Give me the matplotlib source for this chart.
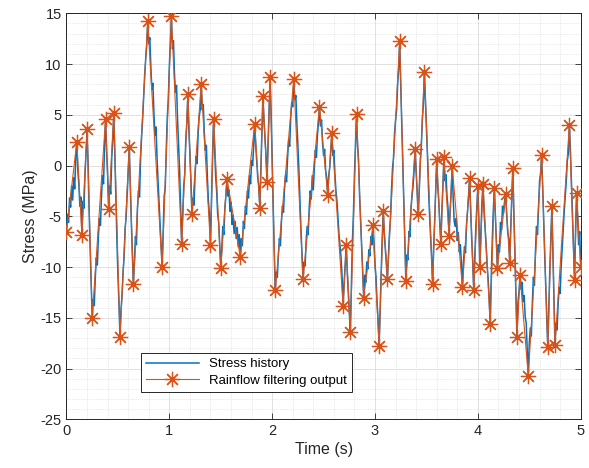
import matplotlib
matplotlib.use("Agg")
import matplotlib.pyplot as plt
import numpy as np
from matplotlib.ticker import MultipleLocator

# rainflow filtering output (turning points)
rf_time = [0.00, 0.10, 0.15, 0.20, 0.25, 0.38, 0.41, 0.46, 0.52, 0.61,
           0.65, 0.79, 0.93, 1.02, 1.12, 1.18, 1.22, 1.31, 1.40, 1.43,
           1.50, 1.56, 1.69, 1.83, 1.88, 1.91, 1.95, 1.98, 2.03, 2.21,
           2.30, 2.46, 2.54, 2.58, 2.69, 2.72, 2.76, 2.82, 2.89, 2.98,
           3.04, 3.08, 3.12, 3.24, 3.30, 3.39, 3.42, 3.48, 3.56, 3.60,
           3.64, 3.67, 3.72, 3.75, 3.85, 3.92, 3.96, 4.00, 4.02, 4.05,
           4.12, 4.16, 4.19, 4.27, 4.31, 4.34, 4.38, 4.41, 4.49, 4.62,
           4.68, 4.72, 4.75, 4.89, 4.94, 4.96, 5.00]
rf_stress = [-6.5, 2.3, -6.8, 3.6, -15.0, 4.6, -4.3, 5.2, -16.9, 1.8,
             -11.7, 14.2, -10.0, 14.7, -7.7, 7.0, -4.8, 8.0, -7.8, 4.6,
             -10.1, -1.3, -9.0, 4.1, -4.2, 6.9, -1.6, 8.7, -12.3, 8.5,
             -11.2, 5.8, -2.9, 3.2, -13.8, -7.8, -16.4, 5.1, -13.0, -5.9,
             -17.8, -4.5, -11.2, 12.3, -11.4, 1.6, -4.8, 9.2, -11.7, 0.6,
             -7.7, 0.8, -6.9, 0.0, -12.0, -1.2, -12.3, -2.0, -10.0, -1.8,
             -15.6, -2.2, -10.1, -2.8, -9.6, -0.2, -16.9, -10.8, -20.7, 1.0,
             -17.9, -4.0, -17.7, 4.0, -11.3, -2.7, -10.0]

# stress history, sampled every 0.01 s
dt = 0.01
stress = [-6.5,
    -4.8, -5.6, -3.2, -4.1, -2.0, -3.4, -1.2, -2.3, 0.9, 2.3,
    -0.5, -1.8, -4.0, -3.1, -6.8,
    -3.5, -4.2, -0.8, 1.2, 3.6,
    0.2, -4.5, -8.2, -11.6, -15.0,
    -13.2, -13.8, -11.0, -9.1, -9.8, -7.0, -5.2, -5.9, -3.1, -1.0, -1.8, 1.9, 4.6,
    1.5, -0.8, -4.3,
    -2.0, -2.8, 0.8, 2.5, 5.2,
    1.0, -3.5, -7.2, -10.8, -13.5, -16.9,
    -14.2, -12.8, -10.5, -9.0, -6.2, -5.1, -2.9, -0.6, 1.8,
    -2.0, -5.5, -8.6, -11.7,
    -9.6, -7.0, -7.8, -4.2, -2.5, -3.1, 0.5, 2.8, 4.5, 6.8, 8.9, 10.5, 11.8, 14.2,
    12.0, 12.6, 9.8, 7.5, 8.1, 5.2, 3.0, 3.8, 0.9, -1.5, -3.6, -5.9, -7.8, -10.0,
    -6.5, -3.0, -2.2, 1.5, 4.8, 6.5, 9.8, 12.1, 14.7,
    11.5, 12.3, 9.0, 7.2, 7.9, 4.5, 2.1, -0.5, -4.2, -7.7,
    -4.8, -2.0, -0.9, 2.6, 4.1, 7.0,
    3.5, 1.2, -1.5, -4.8,
    -3.2, -3.9, -1.0, 0.9, 0.2, 3.1, 4.8, 5.5, 8.0,
    5.5, 6.0, 3.2, 1.5, 2.0, -1.2, -3.5, -4.8, -7.8,
    -3.5, 0.8, 4.6,
    1.8, -1.0, -2.5, -4.8, -5.6, -7.9, -10.1,
    -8.2, -6.0, -6.8, -4.2, -3.0, -1.3,
    -3.0, -2.4, -4.5, -3.6, -5.8, -4.9, -6.7, -5.5, -7.2, -6.1, -8.0, -6.8, -9.0,
    -7.2, -7.9, -5.5, -6.2, -4.0, -4.8, -2.5, -3.2, -1.0, -1.8, 0.5, 0.0, 1.9, 4.1,
    2.0, 0.4, -1.2, -2.0, -4.2,
    -0.5, 3.2, 6.9,
    4.5, 2.8, 1.0, -1.6,
    2.2, 5.5, 8.7,
    5.0, 0.5, -4.2, -8.5, -12.3,
    -10.5, -11.0, -8.8, -7.2, -7.9, -5.5, -4.0, -4.6, -2.3, -1.0, -1.6, 0.8, 2.5, 1.9, 4.6, 6.2, 5.8, 8.5,
    6.5, 6.9, 4.2, 2.0, -0.5, -3.5, -6.3, -8.8, -11.2,
    -9.5, -9.9, -7.5, -6.0, -6.8, -4.2, -2.5, -3.3, -1.0, -2.4, -0.2, 1.5, 0.8, 3.0, 4.2, 5.8,
    3.9, 4.5, 2.2, 1.0, 1.6, -0.5, -1.2, -2.9,
    -1.0, -0.2, 1.5, 3.2,
    1.0, 1.5, -0.8, -2.5, -3.5, -5.2, -6.8, -8.0, -9.1, -11.0, -13.8,
    -11.5, -9.8, -7.8,
    -10.5, -12.6, -14.5, -16.4,
    -12.0, -7.5, -4.8, -1.0, 2.2, 5.1,
    2.0, 0.5, -3.0, -5.5, -8.2, -10.5, -13.0,
    -10.8, -11.5, -9.5, -10.2, -8.3, -8.9, -7.0, -7.8, -5.9,
    -7.5, -9.8, -11.0, -13.5, -15.2, -17.8,
    -14.0, -10.5, -7.2, -4.5,
    -6.8, -8.2, -9.6, -11.2,
    -9.0, -6.8, -5.2, -2.5, -0.3, 0.8, 3.2, 4.5, 5.5, 8.0, 9.5, 12.3,
    8.0, 4.2, 0.5, -3.5, -7.5, -11.4,
    -8.8, -9.3, -6.5, -7.0, -4.2, -3.0, -2.0, -0.5, 1.6,
    -0.5, -2.5, -4.8,
    -2.5, 0.5, 1.8, 4.5, 6.0, 9.2,
    6.5, 4.0, 1.0, -2.2, -4.8, -7.0, -9.0, -11.7,
    -8.0, -5.5, -2.5, 0.6,
    -2.0, -3.5, -5.8, -7.7,
    -4.5, -2.0, 0.8,
    -1.5, -0.9, -3.0, -4.2, -6.9,
    -4.5, -2.8, 0.0,
    -3.2, -5.5, -6.0, -5.2, -7.4, -6.6, -8.5, -7.8, -9.6, -12.0,
    -9.5, -8.0, -8.6, -5.8, -4.5, -3.0, -1.2,
    -4.5, -7.2, -9.5, -12.3,
    -9.0, -6.2, -4.0, -2.0,
    -5.5, -10.0,
    -6.5, -3.5, -1.8,
    -4.5, -6.2, -7.8, -9.8, -11.2, -13.0, -15.6,
    -11.0, -7.5, -4.5, -2.2,
    -4.8, -7.5, -10.1,
    -7.8, -8.5, -5.6, -6.3, -4.0, -4.7, -3.5, -2.8,
    -4.8, -6.5, -7.2, -9.6,
    -6.0, -3.0, -0.2,
    -4.8, -8.5, -12.8, -16.9,
    -13.5, -12.5, -10.8,
    -12.2, -11.5, -13.4, -12.8, -14.9, -15.5, -18.0, -20.7,
    -17.5, -16.0, -16.8, -13.5, -11.0, -11.8, -8.5, -6.0, -6.8, -4.2, -1.5, -0.8, 1.0,
    -2.0, -5.5, -8.8, -12.0, -15.0, -17.9,
    -14.0, -10.2, -7.0, -4.0,
    -8.5, -13.0, -17.7,
    -15.5, -16.2, -13.8, -12.0, -12.6, -10.0, -8.2, -6.5, -4.5, -3.0, -1.5, 0.5, 1.2, 4.0,
    1.5, -1.5, -4.8, -8.0, -11.3,
    -6.5, -2.7,
    -5.0, -7.8, -6.5, -10.0]
time = np.arange(len(stress)) * dt

plt.rcParams['font.family'] = ['Liberation Sans', 'DejaVu Sans']
plt.rcParams['axes.unicode_minus'] = False
fig = plt.figure(figsize=(5.89, 4.68), dpi=100)
ax = fig.add_axes([0.1129, 0.104, 0.873, 0.8676])

ax.plot(time, stress, color='#0072BD', lw=1.1, label='Stress history', zorder=3)
# MATLAB-style '*' marker: 8-armed asterisk
ax.plot(rf_time, rf_stress, color='#D95319', lw=0.8, marker=(8, 2, 0), ms=11,
        mew=0.9, label='Rainflow filtering output', zorder=4)

ax.set_xlim(0, 5)
ax.set_ylim(-25, 15)
ax.xaxis.set_major_locator(MultipleLocator(1))
ax.xaxis.set_minor_locator(MultipleLocator(0.2))
ax.yaxis.set_major_locator(MultipleLocator(5))
ax.yaxis.set_minor_locator(MultipleLocator(1))

axcol = '#262626'
ax.grid(True, which='major', color='#dcdcdc', lw=0.6, ls='-')
ax.grid(True, which='minor', color='#d4d4d4', lw=0.5, ls=':')
ax.set_axisbelow(True)
ax.tick_params(which='major', direction='in', top=True, right=True, length=4,
               width=0.6, colors=axcol, labelsize=10.5)
ax.tick_params(which='minor', length=0, top=True, right=True)
for s in ax.spines.values():
    s.set_color(axcol)
    s.set_linewidth(0.7)

ax.set_xlabel('Time (s)', fontsize=11.5, color=axcol, labelpad=3)
ax.set_ylabel('Stress (MPa)', fontsize=11.5, color=axcol, labelpad=2)

leg = ax.legend(loc='lower left', bbox_to_anchor=(0.133, 0.052), fontsize=9.5,
                fancybox=False, framealpha=1, edgecolor=axcol,
                handlelength=4.0, borderpad=0.35, labelspacing=0.35)
leg.get_frame().set_linewidth(0.7)

fig.savefig('out.png', dpi=100)
